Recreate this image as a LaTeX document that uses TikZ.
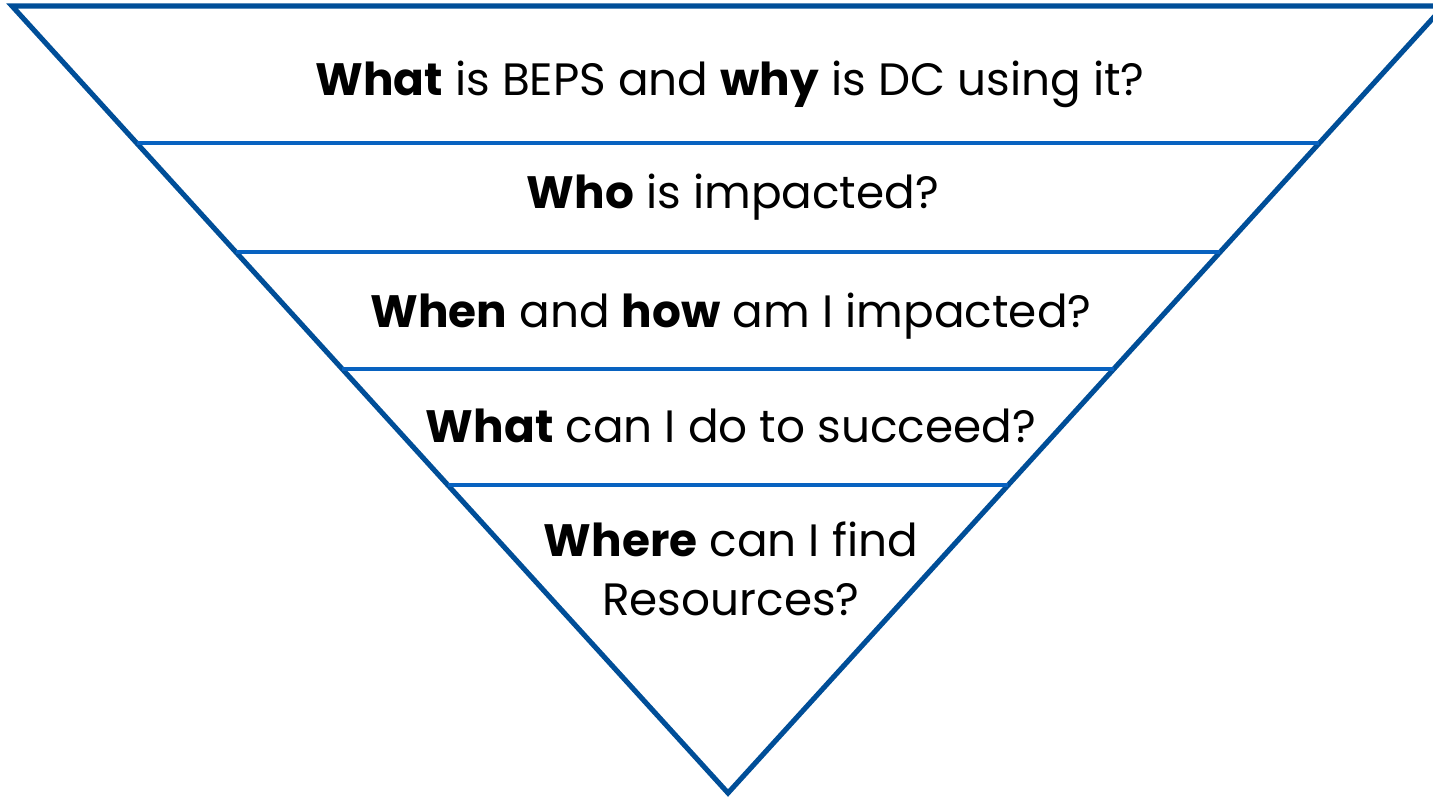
\documentclass[tikz,border=0pt]{standalone}
\usepackage{fontspec}
\setmainfont{Poppins}
\usetikzlibrary{calc,positioning}

\definecolor{rimblue}{HTML}{004E98}
\definecolor{bandblue}{HTML}{0862C0}

\begin{document}
\begin{tikzpicture}[x=0.01cm, y=-0.01cm,
    rim/.style={draw=rimblue, line width=1.45pt, line join=miter},
    band/.style={draw=bandblue, line width=1.15pt},
    question/.style={font=\fontsize{12.9}{16.5}\selectfont, align=center, inner sep=0pt, anchor=base}]
    \useasboundingbox (0, 0) rectangle (1433, 797);
    \clip (0, 0) rectangle (1433, 797);

    % corners of the funnel
    \coordinate (tl) at (12, 6);
    \coordinate (tr) at (1444, 6);
    \coordinate (apex) at (728, 793);

    \draw[rim] (tl) -- (tr) -- (apex) -- cycle;

    % band dividers
    \foreach \t [count=\i] in {0.174, 0.3126, 0.461, 0.6086} {
        \coordinate (l\i) at ($(tl)!\t!(apex)$);
        \coordinate (r\i) at ($(tr)!\t!(apex)$);
        \draw[band] (l\i) -- (r\i);
    }

    % base anchor sits on the last line of a node
    \node[question] (q1) at (730, 95) {\textbf{What} is BEPS and \textbf{why} is DC using it?};
    \node[question] (q2) at (733, 208) {\textbf{Who} is impacted?};
    \node[question] (q3) at (731, 327) {\textbf{When} and \textbf{how} am I impacted?};
    \node[question] (q4) at (731, 442) {\textbf{What} can I do to succeed?};
    \node[question] (q5) at (731, 615) {\textbf{Where} can I find\\Resources?};
\end{tikzpicture}
\end{document}
